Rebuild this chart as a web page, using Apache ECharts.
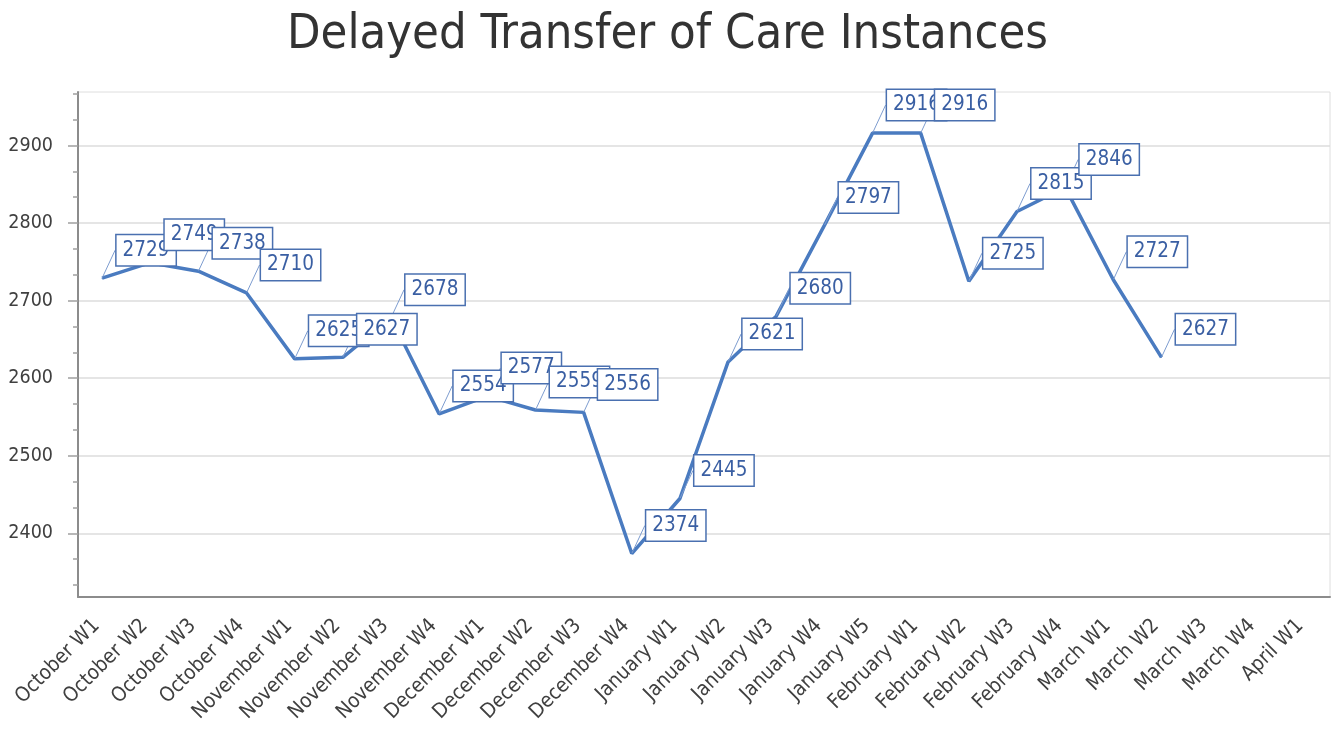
<!DOCTYPE html>
<html lang="en">

<head>
    <meta charset="UTF-8">
    <script src="https://cdn.jsdelivr.net/npm/echarts@6.0.0/dist/echarts.min.js"></script>
    <title>Delayed Transfer of Care Instances</title>
    <style>
        html, body { margin: 0; padding: 0; background: #fff; }
        #chart { width: 1335px; height: 731px; }
    </style>
</head>

<body>
    <div id="chart"></div>

    <script type="text/javascript">
        // week labels along the x axis
        var weeks = ['October W1', 'October W2', 'October W3', 'October W4',
            'November W1', 'November W2', 'November W3', 'November W4',
            'December W1', 'December W2', 'December W3', 'December W4',
            'January W1', 'January W2', 'January W3', 'January W4', 'January W5',
            'February W1', 'February W2', 'February W3', 'February W4',
            'March W1', 'March W2', 'March W3', 'March W4', 'April W1'];

        // instances per week (no data yet for the last three weeks)
        var instances = [2729, 2749, 2738, 2710, 2625, 2627, 2678, 2554,
            2577, 2559, 2556, 2374, 2445, 2621, 2680, 2797, 2916,
            2916, 2725, 2815, 2846, 2727, 2627, null, null, null];

        // y axis range and tick values
        var yMin = 2318;
        var yMax = 2969;
        var majorTicks = [2400, 2500, 2600, 2700, 2800, 2900];
        var minorTicks = [2333.33, 2366.67, 2433.33, 2466.67, 2533.33, 2566.67,
            2633.33, 2666.67, 2733.33, 2766.67, 2833.33, 2866.67, 2933.33, 2966.67];

        var font = 'DejaVu Sans Condensed';
        var chart = echarts.init(document.getElementById('chart'));

        var option = {
            animation: false,
            title: {
                text: 'Delayed Transfer of Care Instances',
                left: 'center',
                top: 6,
                textStyle: {
                    fontFamily: font,
                    fontSize: 48.5,
                    fontWeight: 'normal',
                    color: '#333'
                }
            },
            grid: {
                left: 78,
                right: 5,
                top: 92,
                bottom: 134,
                show: true,
                borderColor: '#dedede',
                borderWidth: 1
            },
            xAxis: {
                type: 'category',
                data: weeks,
                boundaryGap: true,
                axisLine: { lineStyle: { color: '#8c8c8c', width: 2 } },
                axisTick: { alignWithLabel: true, length: 11, lineStyle: { color: '#a0a0a0', width: 1.5 } },
                axisLabel: {
                    interval: 0,
                    rotate: 45,
                    margin: 20,
                    padding: [0, 8, 0, 0],
                    fontFamily: font,
                    fontSize: 20.5,
                    color: '#404040'
                },
                splitLine: { show: false }
            },
            yAxis: [
                {
                    type: 'value',
                    min: yMin,
                    max: yMax,
                    axisLine: { show: true, lineStyle: { color: '#8c8c8c', width: 2 } },
                    axisTick: { show: true, customValues: majorTicks, length: 10, lineStyle: { color: '#a0a0a0', width: 1.5 } },
                    axisLabel: {
                        customValues: majorTicks,
                        formatter: function (v) { return String(v); },
                        margin: 25,
                        fontFamily: font,
                        fontSize: 19.5,
                        color: '#404040'
                    },
                    splitLine: { show: true, lineStyle: { color: '#dcdcdc', width: 1.5 } }
                },
                {
                    type: 'value',
                    min: yMin,
                    max: yMax,
                    position: 'left',
                    axisLine: { show: false },
                    axisTick: { show: true, customValues: minorTicks, length: 5, lineStyle: { color: '#a0a0a0', width: 1.5 } },
                    axisLabel: { show: false },
                    splitLine: { show: false }
                }
            ],
            series: [
                {
                    name: 'Instances',
                    type: 'line',
                    data: instances,
                    symbol: 'circle',
                    symbolSize: 1,
                    itemStyle: { color: '#4a7bc0' },
                    lineStyle: { color: '#4a7bc0', width: 3.5 },
                    label: {
                        show: true,
                        position: 'inside',
                        fontFamily: font,
                        fontSize: 20.5,
                        lineHeight: 20,
                        color: '#3a5fa3',
                        backgroundColor: '#fff',
                        borderColor: '#4a70b0',
                        borderWidth: 1.5,
                        padding: [5, 6, 5, 6]
                    },
                    labelLayout: { dx: 44, dy: -28 },
                    labelLine: {
                        show: true,
                        lineStyle: { color: '#7d9ccf', width: 1 }
                    }
                }
            ]
        };
        chart.setOption(option);
    </script>
</body>

</html>
